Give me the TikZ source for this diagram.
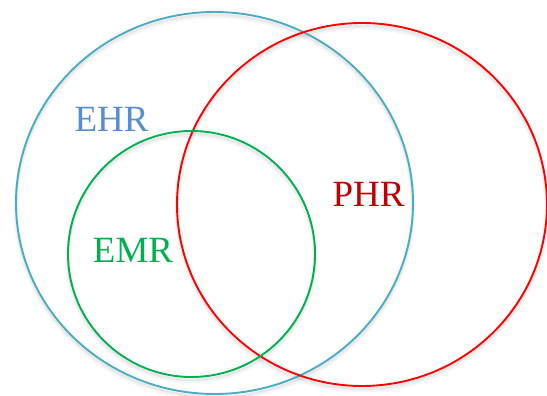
\documentclass[tikz,border=0pt]{standalone}
\usepackage{fontspec}
\setmainfont{Liberation Serif}
\definecolor{ehrline}{HTML}{4BACC6}
\definecolor{ehrtext}{HTML}{558ED5}
\definecolor{phrline}{HTML}{FF0000}
\definecolor{phrtext}{HTML}{C00000}
\definecolor{emrline}{HTML}{00B050}
\tikzset{
  ring/.style={line width=1.9pt},
  shade1/.style={draw=black, line width=5pt, opacity=0.035},
  shade2/.style={draw=black, line width=2.5pt, opacity=0.05},
  lbl/.style={font=\fontsize{37}{40}\selectfont, inner sep=0pt}
}
\begin{document}
\begin{tikzpicture}[x=1pt,y=-1pt]
\useasboundingbox (0,0) rectangle (547,396);
\fill[white] (0,0) rectangle (547,396);
% shadows
\foreach \cx/\cy/\rx/\ry in {214.5/203/198.5/191, 362/204.5/185/181.5, 191.5/254/123.5/123}{
  \draw[shade1] (\cx,\cy+4) ellipse [x radius=\rx, y radius=\ry];
  \draw[shade2] (\cx,\cy+3) ellipse [x radius=\rx, y radius=\ry];
}
\draw[ring, ehrline] (214.5,203) ellipse [x radius=198.5, y radius=191];
\draw[ring, phrline] (362,204.5) ellipse [x radius=185, y radius=181.5];
\draw[ring, emrline] (191.5,254) ellipse [x radius=123.5, y radius=123];
\node[lbl, text=ehrtext] (ehr) at (111.5,119) {EHR};
\node[lbl, text=phrtext] (phr) at (368.5,194) {PHR};
\node[lbl, text=emrline] (emr) at (133,250) {EMR};
\end{tikzpicture}
\end{document}
